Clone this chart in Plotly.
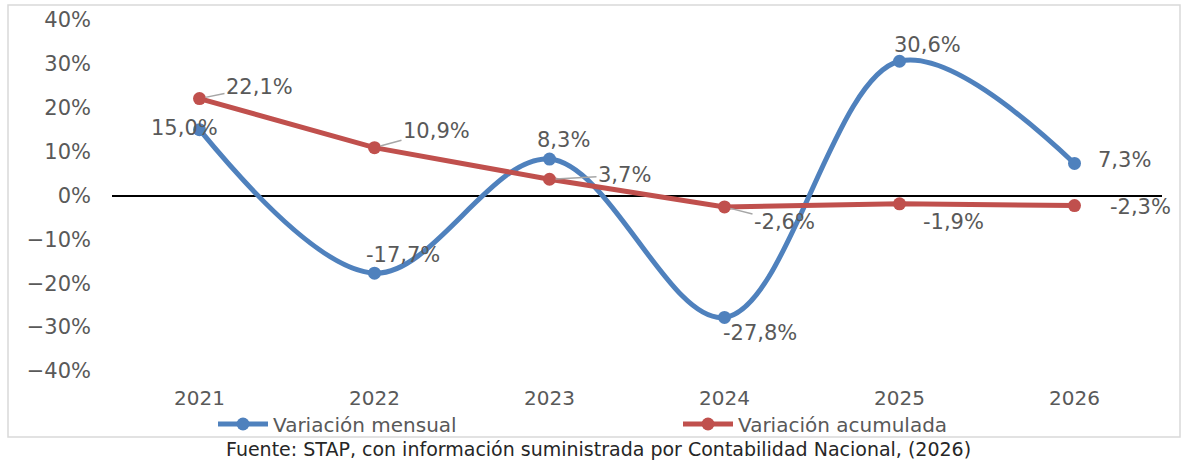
import plotly.graph_objects as go

years = ["2021", "2022", "2023", "2024", "2025", "2026"]
mensual = [15.0, -17.7, 8.3, -27.8, 30.6, 7.3]
acumulada = [22.1, 10.9, 3.7, -2.6, -1.9, -2.3]
series_names = ["Variación mensual", "Variación acumulada"]
source_text = "Fuente: STAP, con información suministrada por Contabilidad Nacional, (2026)"

BLUE = "#4F81BD"
RED = "#C0504D"
GRAY = "#595959"
FONT = "DejaVu Sans"

def fmt(v):
    return f"{v:.1f}".replace(".", ",") + "%"

fig = go.Figure()
fig.add_trace(go.Scatter(
    x=years, y=mensual, name=series_names[0], mode="lines+markers",
    line=dict(color=BLUE, width=5, shape="spline", smoothing=1.0),
    marker=dict(color=BLUE, size=13), cliponaxis=False,
))
fig.add_trace(go.Scatter(
    x=years, y=acumulada, name=series_names[1], mode="lines+markers",
    line=dict(color=RED, width=5),
    marker=dict(color=RED, size=13), cliponaxis=False,
))

# label offsets (pixels) : style only
blue_off = [(-15, 2), (28, 18), (14, 19), (35, -16), (28, 16), (50, 3)]
red_off = [(60, 12), (62, 17), (75, 4), (60, -15), (54, -18), (66, -1)]
red_leader = [True, True, True, True, False, False]

LBL = dict(family=FONT, size=21, color=GRAY)
annotations = []
for i, v in enumerate(mensual):
    dx, dy = blue_off[i]
    annotations.append(dict(x=i, y=v, xref="x", yref="y", text=fmt(v), showarrow=False,
                            xshift=dx, yshift=dy, font=LBL))
for i, v in enumerate(acumulada):
    dx, dy = red_off[i]
    if red_leader[i]:
        annotations.append(dict(x=i, y=v, xref="x", yref="y", text=fmt(v), showarrow=True,
                                ax=dx, ay=-dy, arrowhead=0, arrowwidth=1.5, arrowcolor="#A6A6A6",
                                standoff=6, font=LBL))
    else:
        annotations.append(dict(x=i, y=v, xref="x", yref="y", text=fmt(v), showarrow=False,
                                xshift=dx, yshift=dy, font=LBL))

W, H = 1187, 461
L, R, T, B = 112, 25, 20, 90
pw, ph = W - L - R, H - T - B

def px_x(p):
    return (p - L) / pw

def px_y(p):
    return (H - B - p) / ph

annotations.append(dict(x=px_x(598), y=px_y(449), xref="paper", yref="paper",
                        xanchor="center", yanchor="middle", text=source_text, showarrow=False,
                        font=dict(family=FONT, size=19, color="#262626")))

fig.update_layout(
    width=W, height=H,
    margin=dict(l=L, r=R, t=T, b=B, autoexpand=False),
    paper_bgcolor="white", plot_bgcolor="white",
    font=dict(family=FONT, size=21, color=GRAY),
    showlegend=True,
    legend=dict(orientation="h", x=px_x(213), y=px_y(424), xanchor="left", yanchor="middle",
                entrywidth=400, entrywidthmode="pixels", font=dict(family=FONT, size=20, color=GRAY),
                bgcolor="rgba(0,0,0,0)", itemwidth=50),
    xaxis=dict(type="category", range=[-0.5, 5.5], showgrid=False, showline=False,
               ticks="", ticklabelstandoff=13, tickfont=dict(family=FONT, size=20, color=GRAY)),
    yaxis=dict(range=[-40, 40], dtick=10, ticksuffix="%", showgrid=False, showline=False,
               zeroline=True, zerolinecolor="black", zerolinewidth=2,
               ticklabelstandoff=20, tickfont=dict(family=FONT, size=21, color=GRAY)),
    annotations=annotations,
    shapes=[dict(type="rect", xref="paper", yref="paper",
                 x0=px_x(8), x1=px_x(1180), y0=px_y(437), y1=px_y(5),
                 line=dict(color="#D9D9D9", width=1.5), fillcolor="rgba(0,0,0,0)", layer="below")],
)

fig.write_html("out.html", config={"displayModeBar": False},
               post_script="document.body.style.margin='0';document.body.style.overflow='hidden';")
